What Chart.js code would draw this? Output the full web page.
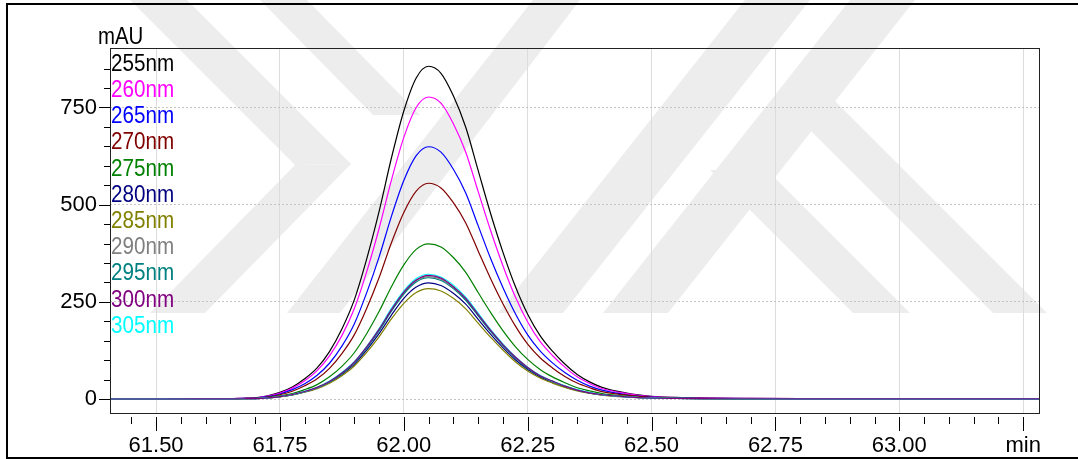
<!DOCTYPE html>
<html>
<head>
<meta charset="utf-8">
<script src="https://cdn.jsdelivr.net/npm/chart.js@4.4.1/dist/chart.umd.min.js"></script>
<style>
  html, body { margin: 0; padding: 0; background: #fff; }
  canvas { display: block; }
</style>
</head>
<body>
<canvas id="chart" width="1078" height="459"></canvas>
<script>
// retention time (min)
const times = [61.40, 61.50, 61.60, 61.65, 61.675, 61.70, 61.725, 61.75, 61.775, 61.80,
  61.825, 61.85, 61.875, 61.90, 61.925, 61.95, 61.975, 62.00, 62.025, 62.05,
  62.075, 62.10, 62.125, 62.15, 62.175, 62.20, 62.225, 62.25, 62.275, 62.30,
  62.325, 62.35, 62.375, 62.40, 62.45, 62.50, 62.55, 62.60, 62.70, 62.80, 63.00, 63.30];

const wavelengths = ['255nm', '260nm', '265nm', '270nm', '275nm', '280nm',
  '285nm', '290nm', '295nm', '300nm', '305nm'];
const colors = ['#000000', '#ff00ff', '#0000ff', '#800000', '#008000', '#000080',
  '#808000', '#808080', '#008080', '#800080', '#00ffff'];
// draw order (lower = on top)
const drawOrder = [10, 9, 8, 7, 6, 5, 4, 3, 2, 0, 1];

// absorbance (mAU) per wavelength
const abs255 = [0, 0, 0.5, 1, 2, 3, 8, 17, 31, 52, 80, 122, 180, 255, 360, 482, 620, 741, 826, 856,
  838, 780, 699, 588, 478, 378, 290, 218, 163, 123, 90, 63, 44, 30, 15, 7, 4, 2.5, 1.5, 1, 0.5, 0.5];
const abs260 = [0, 0, 0.5, 0.9, 1.8, 2.7, 7.3, 15, 28, 47, 73, 111, 163, 232, 327, 438, 563, 673, 750, 777,
  761, 708, 635, 534, 434, 343, 263, 198, 148, 112, 82, 57, 40, 27, 14, 6.4, 3.6, 2.3, 1.4, 0.9, 0.5, 0.5];
const abs265 = [0, 0, 0.4, 0.8, 1.5, 2.3, 6, 13, 24, 39, 61, 92, 136, 193, 273, 365, 470, 562, 626, 649,
  635, 591, 530, 446, 362, 287, 220, 165, 124, 93, 68, 48, 33, 23, 11, 5, 3, 2, 1, 0.8, 0.4, 0.4];
const abs270 = [0, 0, 0.3, 0.6, 1.3, 2, 5, 11, 20, 34, 52, 79, 117, 165, 233, 312, 402, 480, 535, 555,
  543, 505, 453, 381, 310, 245, 188, 141, 106, 80, 58, 41, 29, 19, 10, 4.5, 2.6, 1.6, 1, 0.6, 0.3, 0.3];
const abs275 = [0, 0, 0.2, 0.5, 0.9, 1.4, 4, 8, 14, 24, 37, 57, 84, 119, 168, 225, 289, 345, 385, 399,
  391, 364, 326, 274, 223, 176, 135, 102, 76, 57, 42, 29, 21, 14, 7, 3.3, 1.9, 1.2, 0.7, 0.5, 0.2, 0.2];
const abs280 = [0, 0, 0.2, 0.3, 0.7, 1, 2.8, 5.9, 10.8, 18, 28, 43, 63, 89, 126, 168, 216, 259, 288, 299,
  292, 272, 244, 205, 167, 132, 101, 76, 57, 43, 31, 22, 15, 10.5, 5.2, 2.4, 1.4, 0.9, 0.5, 0.3, 0.2, 0.2];
const abs285 = [0, 0, 0.2, 0.3, 0.7, 1, 2.7, 5.6, 10.3, 17.3, 26.6, 40.5, 60, 85, 120, 160, 206, 246, 274, 284,
  278, 259, 232, 195, 159, 126, 96, 72, 54, 41, 30, 21, 15, 10, 5, 2.3, 1.3, 0.8, 0.5, 0.3, 0.2, 0.2];
const abs290 = [0, 0, 0.2, 0.4, 0.7, 1.1, 2.9, 6.3, 11.4, 19, 29, 45, 66, 94, 133, 177, 228, 273, 304, 315,
  308, 287, 257, 216, 176, 139, 107, 80, 60, 45, 33, 23, 16, 11, 5.5, 2.6, 1.5, 0.9, 0.6, 0.4, 0.2, 0.2];
const abs295 = [0, 0, 0.2, 0.4, 0.7, 1.1, 2.9, 6.2, 11.3, 19, 29, 44, 65, 93, 131, 175, 226, 270, 301, 312,
  305, 284, 254, 214, 174, 138, 106, 79, 59, 45, 33, 23, 16, 11, 5.5, 2.5, 1.5, 0.9, 0.5, 0.4, 0.2, 0.2];
const abs300 = [0, 0, 0.2, 0.4, 0.7, 1.1, 3, 6.3, 11.5, 19.3, 30, 45, 67, 95, 134, 179, 230, 275, 306, 318,
  311, 289, 259, 218, 177, 140, 108, 81, 60, 46, 33, 23, 16, 11, 5.6, 2.6, 1.5, 0.9, 0.6, 0.4, 0.2, 0.2];
const abs305 = [0, 0, 0.2, 0.4, 0.8, 1.1, 3, 6.4, 11.6, 19.5, 30, 46, 68, 96, 135, 181, 233, 278, 310, 321,
  314, 293, 262, 221, 179, 142, 109, 82, 61, 46, 34, 24, 17, 11, 5.6, 2.6, 1.5, 0.9, 0.6, 0.4, 0.2, 0.2];

const series = [abs255, abs260, abs265, abs270, abs275, abs280, abs285, abs290, abs295, abs300, abs305];

// axis ticks
const xMajorLabels = ['61.50', '61.75', '62.00', '62.25', '62.50', '62.75', '63.00', 'min'];
const yMajorLabels = [0, 250, 500, 750];

const FONT = '"Liberation Sans", Arial, sans-serif';

const isMajorX = v => {
    const k = (v - 61.5) / 0.25;
    return k > -0.001 && Math.abs(k - Math.round(k)) < 1e-6;
};
const isMajorY = v => yMajorLabels.includes(v);

// ----------------------------------------------------
// Faint background watermark (page decoration, not data)
// ----------------------------------------------------
const watermarkBands = [
    [[850, 0], [915, 0], [668, 313], [603, 313]],
    [[745, 0], [810, 0], [563, 313], [498, 313]],
    [[780, 100], [834, 100], [1047, 313], [993, 313]],
    [[710, 170], [767, 170], [910, 313], [853, 313]],
    [[130, 0], [187, 0], [351, 164], [295, 165]],
    [[150, 313], [205, 313], [351, 164], [295, 165]],
    [[260, 0], [307, 0], [420, 115], [373, 115]],
    [[287, 313], [340, 313], [580, 0], [533, 0]]
];

const watermark = {
    id: 'watermark',
    beforeDraw(chart) {
        const ctx = chart.ctx;
        ctx.save();
        ctx.fillStyle = '#ededed';
        watermarkBands.forEach(poly => {
            ctx.beginPath();
            poly.forEach((p, i) => i ? ctx.lineTo(p[0], p[1]) : ctx.moveTo(p[0], p[1]));
            ctx.closePath();
            ctx.fill();
        });
        ctx.restore();
    }
};

// ----------------------------------------------------
// Frame, tick marks, labels drawn on top of the chart
// ----------------------------------------------------
const decorations = {
    id: 'decorations',
    afterDraw(chart) {
        const ctx = chart.ctx;
        const area = chart.chartArea;
        const xs = chart.scales.x;
        const ys = chart.scales.y;

        ctx.save();
        // plot box
        ctx.strokeStyle = '#222';
        ctx.lineWidth = 1;
        ctx.strokeRect(area.left + 0.5, area.top + 0.5, area.right - area.left, area.bottom - area.top);

        // x tick marks (below the box, with a gap)
        ctx.strokeStyle = '#000';
        ctx.beginPath();
        xs.ticks.forEach(t => {
            const px = Math.round(xs.getPixelForValue(t.value)) + 0.5;
            const len = isMajorX(t.value) ? 14 : 7;
            ctx.moveTo(px, area.bottom + 4);
            ctx.lineTo(px, area.bottom + 4 + len);
        });
        // y tick marks
        ys.ticks.forEach(t => {
            const py = Math.round(ys.getPixelForValue(t.value)) + 0.5;
            const len = isMajorY(t.value) ? 11 : 6;
            ctx.moveTo(area.left - len, py);
            ctx.lineTo(area.left, py);
        });
        ctx.stroke();

        // outer frame
        ctx.lineWidth = 2;
        ctx.beginPath();
        ctx.moveTo(7, chart.height);
        ctx.lineTo(7, 4);
        ctx.lineTo(chart.width, 4);
        ctx.moveTo(7, chart.height - 1);
        ctx.lineTo(chart.width, chart.height - 1);
        ctx.stroke();

        // unit label
        ctx.font = '24px ' + FONT;
        ctx.fillStyle = '#000';
        ctx.textBaseline = 'alphabetic';
        ctx.save();
        ctx.translate(area.left - 12, area.top - 4.5);
        ctx.scale(0.85, 1);
        ctx.fillText('mAU', 0, 0);
        ctx.restore();

        // coloured wavelength labels
        chart.data.datasets.forEach((ds, i) => {
            ctx.save();
            ctx.translate(area.left + 1, area.top + 22.7 + i * 26.2);
            ctx.scale(0.86, 1);
            ctx.fillStyle = ds.borderColor;
            ctx.fillText(ds.label, 0, 0);
            ctx.restore();
        });
        ctx.restore();
    }
};

const datasets = series.map((vals, i) => ({
    label: wavelengths[i],
    data: vals.map((v, j) => ({ x: times[j], y: v })),
    borderColor: colors[i],
    borderWidth: 1.2,
    pointRadius: 0,
    fill: false,
    cubicInterpolationMode: 'monotone',
    order: drawOrder[i]
}));

new Chart(document.getElementById('chart'), {
    type: 'line',
    data: { datasets: datasets },
    options: {
        responsive: false,
        animation: false,
        events: [],
        layout: { padding: { left: 0, top: 48, right: 39, bottom: 0 } },
        plugins: {
            legend: { display: false },
            tooltip: { enabled: false }
        },
        scales: {
            x: {
                type: 'linear',
                min: 61.407,
                max: 63.282,
                afterBuildTicks: scale => {
                    const t = [];
                    for (let i = 0; i <= 36; i++) t.push({ value: Math.round((61.45 + i * 0.05) * 100) / 100 });
                    scale.ticks = t;
                },
                afterFit: scale => { scale.height = 46; },
                ticks: {
                    autoSkip: false,
                    maxRotation: 0,
                    minRotation: 0,
                    padding: 20,
                    color: '#000',
                    font: { family: FONT, size: 22 },
                    callback: v => {
                        if (!isMajorX(v)) return '';
                        return xMajorLabels[Math.round((v - 61.5) / 0.25)];
                    }
                },
                grid: {
                    drawTicks: false,
                    color: ctx => (ctx.tick && isMajorX(ctx.tick.value)) ? '#dcdcdc' : 'rgba(0,0,0,0)',
                    lineWidth: 1
                },
                border: { display: false }
            },
            y: {
                type: 'linear',
                min: -36,
                max: 903,
                afterBuildTicks: scale => {
                    const t = [];
                    for (let v = 0; v <= 850; v += 50) t.push({ value: v });
                    scale.ticks = t;
                },
                afterFit: scale => { scale.width = 110; },
                ticks: {
                    autoSkip: false,
                    padding: 13,
                    color: '#000',
                    font: { family: FONT, size: 22 },
                    callback: v => isMajorY(v) ? String(v) : ''
                },
                grid: {
                    drawTicks: false,
                    color: ctx => (ctx.tick && isMajorY(ctx.tick.value)) ? '#c4c4c4' : 'rgba(0,0,0,0)',
                    lineWidth: 1
                },
                border: { display: false, dash: [2, 2] }
            }
        }
    },
    plugins: [watermark, decorations]
});
</script>
</body>
</html>
